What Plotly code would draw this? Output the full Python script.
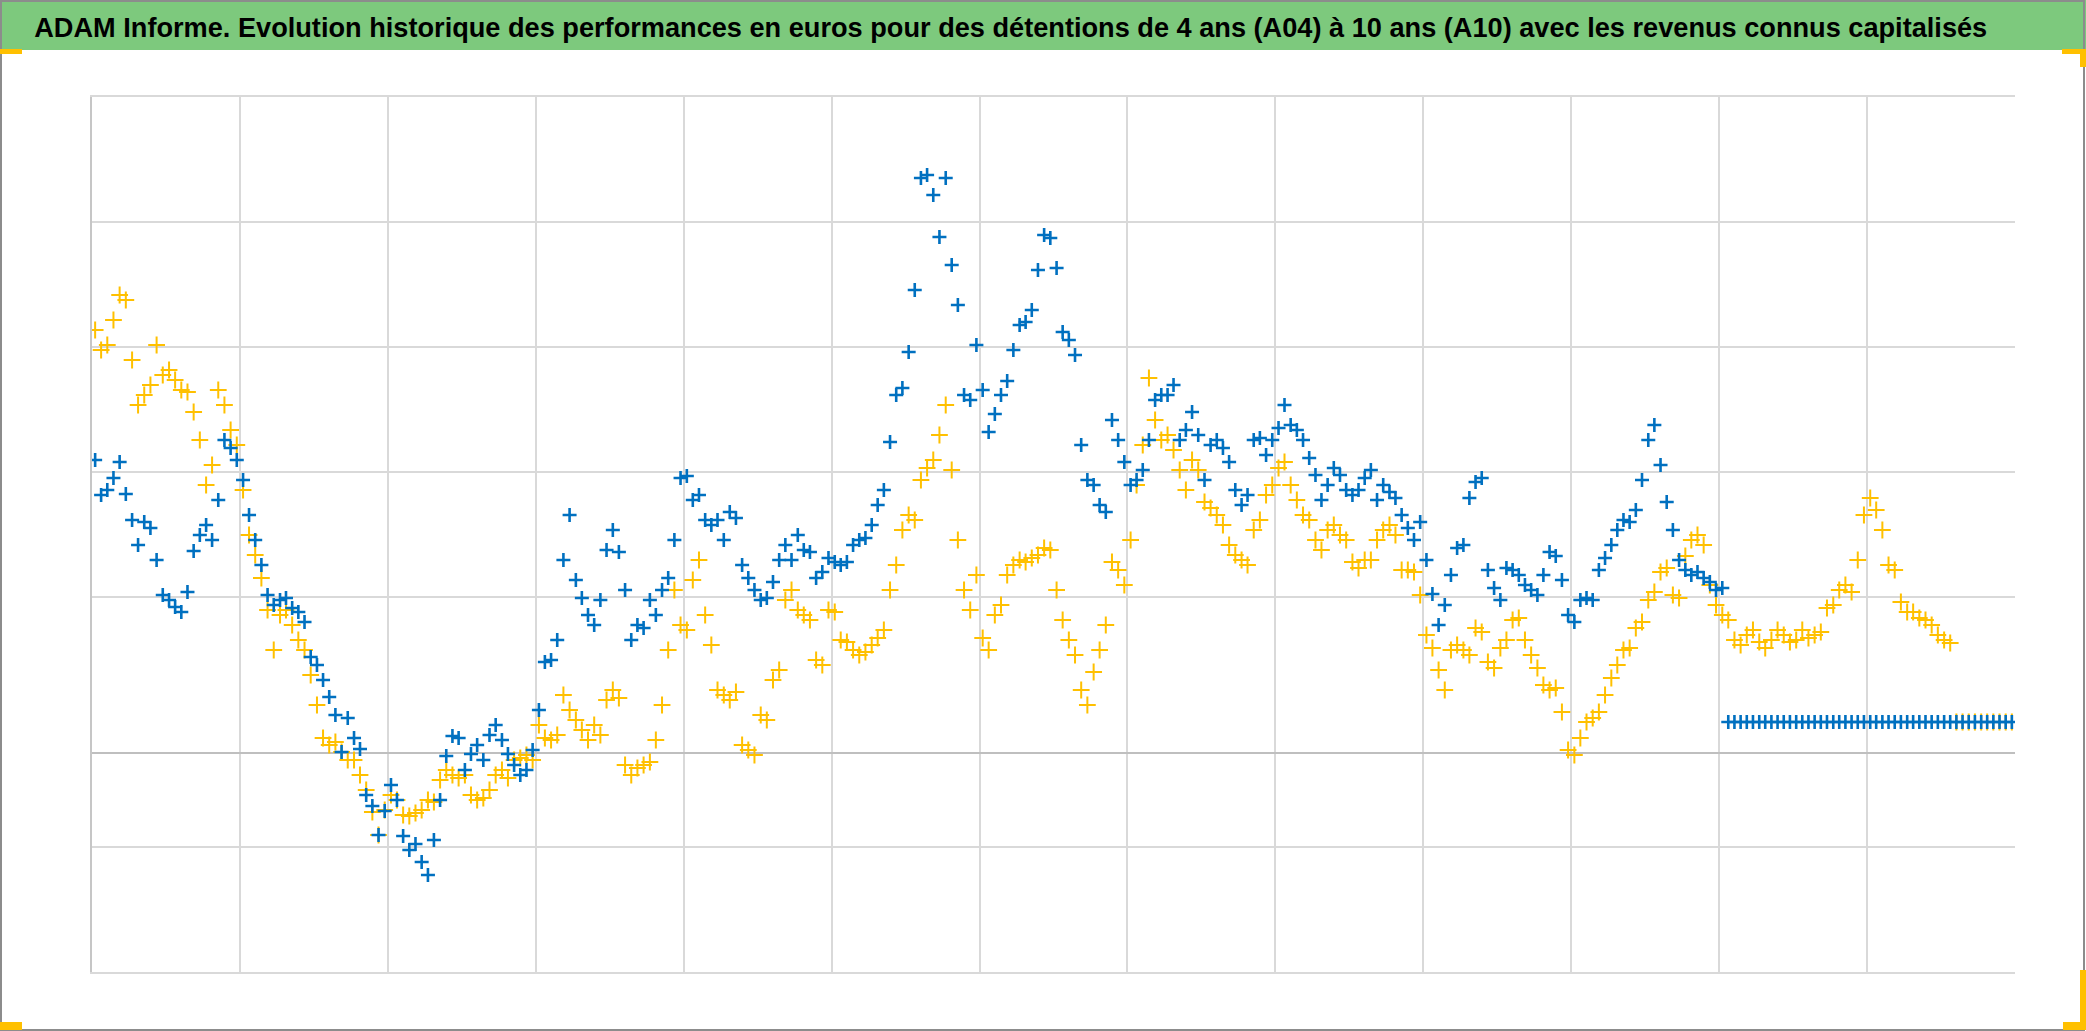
import pandas as pd
import plotly.graph_objects as go

TITLE = ("ADAM Informe. Evolution historique des performances en euros pour des détentions "
         "de 4 ans (A04) à 10 ans (A10) avec les revenus connus capitalisés")

# Start dates of the holding periods (one reading every two months)
START_DATE = "1970-02-01"
FREQ = "2MS"

# Performance (%) for a 10-year holding (A10)
a10 = [
    58.6, 51.6, 52.6, 55.0, 58.2, 51.8, 46.6, 41.6, 46.2, 45.0,
    38.6, 31.6, 30.6, 29.2, 28.2, 32.2, 40.4, 43.6, 45.6, 42.6,
    50.6, 62.6, 61.0, 58.6, 54.6, 47.6, 42.6, 37.6, 31.6, 29.6,
    30.6, 31.0, 29.0, 28.2, 26.2, 19.2, 17.6, 14.6, 11.2, 7.6,
    0.2, 7.0, 3.0, 0.8, -8.4, -10.6, -16.4, -11.6, -6.4, -9.4,
    -16.6, -19.4, -18.2, -21.8, -24.4, -17.4, -9.4, -0.6, 3.4, 3.0,
    -3.4, -0.2, 1.6, -1.4, 3.6, 5.6, 2.6, -0.2, -2.4, -4.4,
    -3.4, 0.6, 8.6, 18.2, 18.6, 22.6, 38.6, 47.6, 34.6, 31.0,
    27.6, 25.6, 30.6, 40.6, 44.6, 40.2, 32.6, 22.6, 25.6, 25.0,
    30.6, 27.6, 32.6, 35.0, 42.6, 55.0, 55.4, 50.6, 51.6, 46.6,
    45.6, 46.6, 42.6, 48.2, 47.0, 37.6, 35.0, 32.6, 30.6, 31.0,
    34.2, 38.6, 41.6, 38.6, 43.6, 40.6, 40.2, 35.0, 36.2, 39.0,
    38.2, 37.6, 38.2, 41.6, 42.6, 43.0, 45.6, 49.6, 52.6, 62.2,
    71.6, 73.0, 80.2, 92.6, 115.0, 115.6, 111.6, 103.2, 115.0, 97.6,
    89.6, 71.6, 70.6, 81.6, 72.6, 64.2, 67.8, 71.6, 74.4, 80.6,
    85.6, 86.2, 88.6, 96.6, 103.6, 103.0, 97.0, 84.2, 82.6, 79.6,
    61.6, 54.6, 53.6, 49.6, 48.2, 66.6, 62.6, 58.2, 53.6, 54.6,
    56.6, 62.6, 70.6, 71.6, 71.6, 73.6, 62.6, 64.6, 68.2, 63.6,
    54.6, 61.6, 62.6, 61.0, 58.2, 52.6, 49.6, 51.6, 62.6, 63.0,
    59.6, 62.6, 65.0, 69.6, 65.6, 64.6, 62.6, 59.0, 55.6, 50.6,
    53.6, 57.0, 55.6, 52.6, 51.6, 52.6, 55.0, 56.6, 50.6, 53.6,
    52.2, 51.0, 47.6, 45.0, 42.6, 46.2, 38.6, 31.8, 25.6, 29.6,
    35.6, 41.0, 41.6, 51.0, 54.2, 55.0, 36.6, 33.0, 30.6, 37.0,
    36.6, 35.6, 33.6, 32.6, 31.6, 35.6, 40.2, 39.4, 34.6, 27.6,
    26.2, 30.6, 31.0, 30.6, 36.6, 39.0, 41.6, 44.6, 46.6, 46.2,
    48.6, 54.6, 62.6, 65.6, 57.6, 50.2, 44.6, 38.6, 36.6, 35.6,
    36.2, 35.0, 34.2, 32.6, 33.0,
    6.2, 6.2, 6.2, 6.2, 6.2, 6.2, 6.2, 6.2, 6.2, 6.2,
    6.2, 6.2, 6.2, 6.2, 6.2, 6.2, 6.2, 6.2, 6.2, 6.2,
    6.2, 6.2, 6.2, 6.2, 6.2, 6.2, 6.2, 6.2, 6.2, 6.2,
    6.2, 6.2, 6.2, 6.2, 6.2, 6.2, 6.2, 6.2, 6.2, 6.2,
    6.2, 6.2, 6.2, 6.2, 6.2, 6.2, 6.2,
]

# Performance (%) for a 4-year holding (A04)
a04 = [
    84.6, 80.6, 81.6, 86.6, 91.6, 90.6, 78.6, 69.6, 71.6, 73.6,
    81.6, 75.6, 76.6, 74.6, 72.6, 72.2, 68.2, 62.6, 53.6, 57.6,
    72.6, 69.6, 64.6, 61.6, 52.6, 43.6, 39.6, 35.0, 28.6, 20.6,
    27.6, 28.6, 25.6, 22.6, 20.6, 15.6, 9.6, 3.0, 1.6, 2.2,
    0.2, -1.4, -1.4, -4.4, -7.4, -11.8, -16.4, -11.4, -8.4, -9.4,
    -12.4, -12.6, -12.0, -11.4, -9.4, -9.8, -5.4, -3.4, -4.4, -5.0,
    -4.4, -8.4, -9.4, -9.0, -7.4, -4.4, -3.4, -5.0, -1.4, -1.0,
    -0.4, -1.4, 5.6, 3.0, 2.6, 3.6, 11.6, 8.6, 6.6, 4.6,
    2.6, 5.6, 3.6, 10.6, 12.6, 11.0, -2.4, -4.4, -3.0, -2.4,
    -1.8, 2.6, 9.6, 20.6, 32.6, 25.6, 24.6, 34.6, 38.6, 27.6,
    21.6, 12.6, 11.6, 10.6, 12.2, 1.6, 0.6, -0.4, 7.6, 6.6,
    14.6, 16.6, 30.6, 32.6, 28.6, 27.6, 26.6, 18.6, 17.6, 28.6,
    28.2, 22.6, 22.2, 20.6, 19.6, 20.2, 21.6, 23.0, 24.6, 32.6,
    37.6, 44.6, 47.6, 46.6, 54.6, 57.0, 58.6, 63.6, 69.6, 56.6,
    42.6, 32.6, 28.6, 35.6, 23.0, 20.6, 27.6, 29.6, 35.6, 37.6,
    38.6, 38.2, 39.0, 39.6, 41.0, 40.6, 32.6, 26.6, 22.6, 19.6,
    12.6, 9.6, 16.2, 20.6, 25.6, 38.2, 36.6, 33.6, 42.6, 53.6,
    61.6, 75.0, 66.6, 62.6, 63.6, 60.6, 56.6, 52.6, 58.6, 56.6,
    50.2, 49.0, 47.6, 45.6, 41.6, 39.6, 38.6, 37.6, 44.6, 46.6,
    51.6, 53.6, 57.0, 58.2, 53.6, 50.6, 47.6, 46.6, 42.6, 40.6,
    44.6, 45.6, 43.6, 42.6, 38.2, 37.0, 38.6, 38.6, 42.6, 44.6,
    45.6, 43.6, 36.6, 36.6, 36.2, 31.6, 23.6, 21.0, 16.6, 12.6,
    20.6, 21.6, 20.6, 19.6, 25.0, 24.2, 18.2, 17.0, 21.0, 22.6,
    26.6, 27.0, 22.6, 19.6, 17.0, 13.6, 12.6, 13.0, 8.2, 0.6,
    -0.4, 3.0, 6.2, 7.0, 8.2, 11.6, 15.0, 17.6, 20.6, 21.0,
    25.0, 26.2, 30.6, 32.2, 36.2, 37.0, 31.6, 31.0, 39.4, 42.6,
    43.6, 41.6, 33.6, 29.6, 27.6, 26.6, 22.6, 21.6, 23.6, 24.6,
    22.2, 21.0, 22.6, 24.6, 23.6, 22.2, 22.6, 24.6, 23.0, 23.6,
    24.2, 29.0, 29.6, 32.6, 33.6, 32.2, 38.6, 47.6, 51.0, 48.6,
    44.6, 37.6, 36.6, 30.2, 28.2, 28.2, 27.0, 26.6, 25.6, 23.6,
    22.6, 22.0,
    6.2, 6.2, 6.2, 6.2, 6.2, 6.2, 6.2, 6.2, 6.2, 6.2,
]

# Axis settings
X_RANGE = ["1970-01-01", "2022-01-01"]
Y_RANGE = [-43.8, 131.2]
Y_GRID = [-43.8, -18.8, 31.2, 56.2, 81.2, 106.2, 131.2]

dates_a10 = pd.date_range(START_DATE, periods=len(a10), freq=FREQ)
dates_a04 = pd.date_range(START_DATE, periods=len(a04), freq=FREQ)

W, H = 2086, 1031
ML, MR, MT, MB = 92, W - 2015, 97, H - 972
PW, PH = W - ML - MR, H - MT - MB
TITLE_WIDTH = 1953


def px(x):
    return (x - ML) / PW


def py(y):
    return (H - MB - y) / PH


fig = go.Figure()
fig.add_trace(go.Scatter(
    x=dates_a04, y=a04, mode="markers", name="A04",
    marker=dict(symbol="cross-thin", size=12, color="#FFC000",
                line=dict(color="#FFC000", width=2)),
))
fig.add_trace(go.Scatter(
    x=dates_a10, y=a10, mode="markers", name="A10",
    marker=dict(symbol="cross-thin", size=10, color="#0070C0",
                line=dict(color="#0070C0", width=2.6)),
))

shapes = []
# green title band
shapes.append(dict(type="rect", xref="paper", yref="paper",
                   x0=px(0), x1=px(W), y0=py(50), y1=py(0),
                   fillcolor="#7DC97D", line=dict(width=0), layer="below"))
# outer border
shapes.append(dict(type="rect", xref="paper", yref="paper",
                   x0=px(1), x1=px(W - 2), y0=py(H - 1), y1=py(1),
                   fillcolor="rgba(0,0,0,0)", line=dict(color="#8C8C8C", width=2)))
# gold corner handles
gold = "#FFC000"
for (x0, y0, x1, y1) in [
    (0, 49, 22, 54),
    (2062, 49, 2086, 54), (2080, 49, 2086, 67),
    (0, 1022, 22, 1030),
    (2063, 1022, 2086, 1030), (2080, 970, 2086, 1030),
]:
    shapes.append(dict(type="rect", xref="paper", yref="paper",
                       x0=px(x0), x1=px(x1), y0=py(y1), y1=py(y0),
                       fillcolor=gold, line=dict(width=0)))

fig.update_layout(
    width=W, height=H,
    margin=dict(l=ML, r=MR, t=MT, b=MB, pad=0),
    paper_bgcolor="white", plot_bgcolor="white",
    showlegend=False,
    shapes=shapes,
    annotations=[dict(
        text="<b>" + TITLE + "</b>", xref="paper", yref="paper",
        x=px(1010), y=py(28), xanchor="center", yanchor="middle",
        showarrow=False,
        font=dict(family="Liberation Sans, Arial, sans-serif", size=28, color="#000000"),
    )],
    xaxis=dict(
        type="date", range=X_RANGE, tick0="1970-01-01", dtick="M48",
        showgrid=True, gridcolor="#D9D9D9", gridwidth=1.5,
        showticklabels=False, ticks="", zeroline=False,
        showline=True, mirror=True, linecolor="#D9D9D9", linewidth=1.5,
    ),
    yaxis=dict(
        range=Y_RANGE, tickmode="array", tickvals=Y_GRID,
        showgrid=True, gridcolor="#D9D9D9", gridwidth=1.5,
        showticklabels=False, ticks="",
        zeroline=True, zerolinecolor="#BFBFBF", zerolinewidth=2,
        showline=True, linecolor="#C6C6C6", linewidth=2,
    ),
)

post = (
    "document.body.style.margin='0';document.body.style.overflow='hidden';"
    "var t=document.querySelector('.annotation-text');"
    "if(t){t.setAttribute('textLength','%d');t.setAttribute('lengthAdjust','spacingAndGlyphs');}"
    % TITLE_WIDTH
)
fig.write_html("out.html", config={"displayModeBar": False}, post_script=post)
